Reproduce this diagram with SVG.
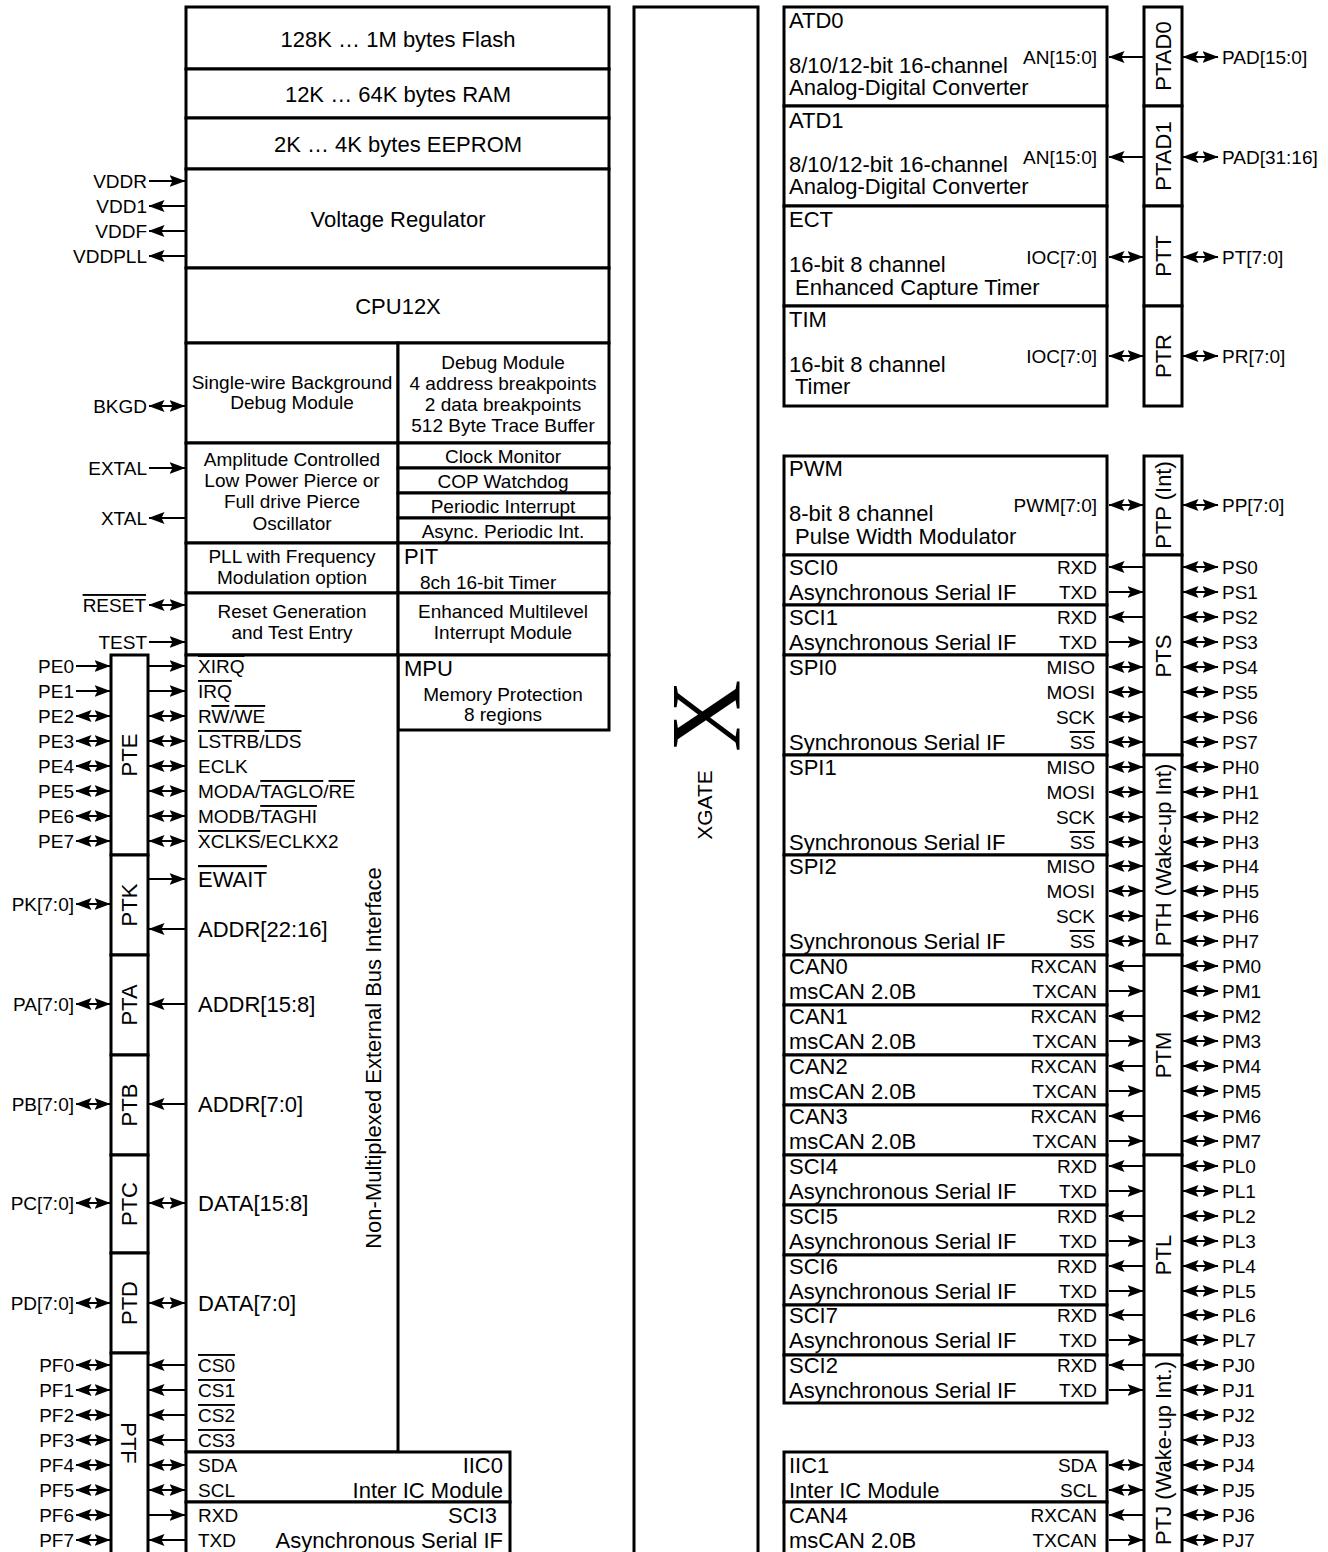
<svg xmlns="http://www.w3.org/2000/svg" width="1328" height="1552" viewBox="0 0 1328 1552">
<defs>
<marker id="ah" viewBox="0 0 16 12" refX="15.5" refY="6" markerWidth="16" markerHeight="12" markerUnits="userSpaceOnUse" orient="auto-start-reverse"><path d="M0,0 L16,6 L0,12 L3,6 z" fill="#000"/></marker>
</defs>
<style>
.b{fill:#fff;stroke:#000;stroke-width:3}
.t{font-family:"Liberation Sans",Arial,sans-serif;fill:#000}
.s{font-size:19px}
.m{font-size:22px}
.c{text-anchor:middle}
.r{text-anchor:end}
.ln{stroke:#000;stroke-width:2.2}
.a1{marker-end:url(#ah)}
.a2{marker-start:url(#ah);marker-end:url(#ah)}
.o{text-decoration:overline}
</style>
<rect width="1328" height="1552" fill="#fff"/>

<!-- left main column -->
<g id="flash"><rect class="b" x="186" y="7" width="423" height="62"/><text class="t m c" x="398" y="47">128K … 1M bytes Flash</text></g>
<g id="ram"><rect class="b" x="186" y="69" width="423" height="49"/><text class="t m c" x="398" y="102">12K … 64K bytes RAM</text></g>
<g id="eeprom"><rect class="b" x="186" y="118" width="423" height="51"/><text class="t m c" x="398" y="152">2K … 4K bytes EEPROM</text></g>
<g id="vreg"><rect class="b" x="186" y="169" width="423" height="99"/><text class="t m c" x="398" y="227">Voltage Regulator</text></g>
<g id="cpu"><rect class="b" x="186" y="268" width="423" height="75"/><text class="t m c" x="398" y="314">CPU12X</text></g>
<g id="bdm"><rect class="b" x="186" y="343" width="212" height="100"/><text class="t s c" x="292" y="389">Single-wire Background</text><text class="t s c" x="292" y="409">Debug Module</text></g>
<g id="dbg"><rect class="b" x="398" y="343" width="211" height="100"/><text class="t s c" x="503" y="369">Debug Module</text><text class="t s c" x="503" y="390">4 address breakpoints</text><text class="t s c" x="503" y="411">2 data breakpoints</text><text class="t s c" x="503" y="432">512 Byte Trace Buffer</text></g>
<g id="osc"><rect class="b" x="186" y="443" width="212" height="100"/><text class="t s c" x="292" y="466">Amplitude Controlled</text><text class="t s c" x="292" y="487">Low Power Pierce or</text><text class="t s c" x="292" y="508">Full drive Pierce</text><text class="t s c" x="292" y="530">Oscillator</text></g>
<g id="clkmon"><rect class="b" x="398" y="443" width="211" height="25"/><text class="t s c" x="503" y="463">Clock Monitor</text></g>
<g id="cop"><rect class="b" x="398" y="468" width="211" height="25"/><text class="t s c" x="503" y="488">COP Watchdog</text></g>
<g id="pint"><rect class="b" x="398" y="493" width="211" height="25"/><text class="t s c" x="503" y="513">Periodic Interrupt</text></g>
<g id="apint"><rect class="b" x="398" y="518" width="211" height="25"/><text class="t s c" x="503" y="538">Async. Periodic Int.</text></g>
<g id="pll"><rect class="b" x="186" y="543" width="212" height="50"/><text class="t s c" x="292" y="563">PLL with Frequency</text><text class="t s c" x="292" y="584">Modulation option</text></g>
<g id="pit"><rect class="b" x="398" y="543" width="211" height="50"/><text class="t m" x="404" y="564">PIT</text><text class="t s" x="420" y="589">8ch 16-bit Timer</text></g>
<g id="reset"><rect class="b" x="186" y="593" width="212" height="62"/><text class="t s c" x="292" y="618">Reset Generation</text><text class="t s c" x="292" y="639">and Test Entry</text></g>
<g id="emim"><rect class="b" x="398" y="593" width="211" height="62"/><text class="t s c" x="503" y="618">Enhanced Multilevel</text><text class="t s c" x="503" y="639">Interrupt Module</text></g>
<g id="mpu"><rect class="b" x="398" y="655" width="211" height="75"/><text class="t m" x="404" y="676">MPU</text><text class="t s c" x="503" y="701">Memory Protection</text><text class="t s c" x="503" y="721">8 regions</text></g>
<g id="ebi"><rect class="b" x="186" y="655" width="212" height="797"/>
<text class="t s" x="198" y="673"><tspan class="o">XIRQ</tspan></text>
<text class="t s" x="198" y="698"><tspan class="o">IRQ</tspan></text>
<text class="t s" x="198" y="723">R<tspan class="o">W</tspan>/<tspan class="o">WE</tspan></text>
<text class="t s" x="198" y="748"><tspan class="o">LSTRB</tspan>/<tspan class="o">LDS</tspan></text>
<text class="t s" x="198" y="773">ECLK</text>
<text class="t s" x="198" y="798">MODA/<tspan class="o">TAGLO</tspan>/<tspan class="o">RE</tspan></text>
<text class="t s" x="198" y="823">MODB/<tspan class="o">TAGHI</tspan></text>
<text class="t s" x="198" y="848"><tspan class="o">XCLKS</tspan>/ECLKX2</text>
<text class="t m" x="198" y="887"><tspan class="o">EWAIT</tspan></text>
<text class="t m" x="198" y="937">ADDR[22:16]</text>
<text class="t m" x="198" y="1012">ADDR[15:8]</text>
<text class="t m" x="198" y="1112">ADDR[7:0]</text>
<text class="t m" x="198" y="1211">DATA[15:8]</text>
<text class="t m" x="198" y="1311">DATA[7:0]</text>
<text class="t s" x="198" y="1372"><tspan class="o">CS0</tspan></text>
<text class="t s" x="198" y="1397"><tspan class="o">CS1</tspan></text>
<text class="t s" x="198" y="1422"><tspan class="o">CS2</tspan></text>
<text class="t s" x="198" y="1447"><tspan class="o">CS3</tspan></text>
<text class="t m c" transform="translate(373,1058) rotate(-90)" y="8">Non-Multiplexed External Bus Interface</text>
</g>
<g id="iic0"><rect class="b" x="186" y="1452" width="324" height="50"/><text class="t s" x="198" y="1472">SDA</text><text class="t s" x="198" y="1497">SCL</text><text class="t m r" x="503" y="1473">IIC0</text><text class="t m r" x="503" y="1498">Inter IC Module</text></g>
<g id="sci3"><rect class="b" x="186" y="1502" width="324" height="52"/><text class="t s" x="198" y="1522">RXD</text><text class="t s" x="198" y="1547">TXD</text><text class="t m r" x="497" y="1523">SCI3</text><text class="t m r" x="503" y="1548">Asynchronous Serial IF</text></g>

<!-- left ports -->
<g id="pte"><rect class="b" x="111" y="655" width="37" height="200"/><text class="t m c" transform="translate(129,755) rotate(-90)" y="8">PTE</text></g>
<g id="ptk"><rect class="b" x="111" y="855" width="37" height="100"/><text class="t m c" transform="translate(129,905) rotate(-90)" y="8">PTK</text></g>
<g id="pta"><rect class="b" x="111" y="955" width="37" height="100"/><text class="t m c" transform="translate(129,1005) rotate(-90)" y="8">PTA</text></g>
<g id="ptb"><rect class="b" x="111" y="1055" width="37" height="100"/><text class="t m c" transform="translate(129,1105) rotate(-90)" y="8">PTB</text></g>
<g id="ptc"><rect class="b" x="111" y="1155" width="37" height="98"/><text class="t m c" transform="translate(129,1204) rotate(-90)" y="8">PTC</text></g>
<g id="ptd"><rect class="b" x="111" y="1253" width="37" height="100"/><text class="t m c" transform="translate(129,1303) rotate(-90)" y="8">PTD</text></g>
<g id="ptf"><rect class="b" x="111" y="1353" width="37" height="201"/><text class="t m c" transform="translate(129,1443) rotate(90)" y="8">PTF</text></g>

<!-- XGATE -->
<g id="xgate"><rect class="b" x="634" y="7" width="124" height="1547"/>
<text transform="translate(705,716) rotate(-90)" y="34" text-anchor="middle" font-family="'Liberation Serif','Times New Roman',serif" font-size="100">X</text>
<text class="t c" font-size="21" transform="translate(705,805) rotate(-90)" y="7">XGATE</text></g>

<!-- right modules -->
<g id="atd0"><rect class="b" x="784" y="7" width="323" height="99"/><text class="t m" x="789" y="28">ATD0</text><text class="t m" x="789" y="73">8/10/12-bit 16-channel</text><text class="t m" x="789" y="95">Analog-Digital Converter</text><text class="t s r" x="1097" y="64">AN[15:0]</text></g>
<g id="atd1"><rect class="b" x="784" y="106" width="323" height="100"/><text class="t m" x="789" y="128">ATD1</text><text class="t m" x="789" y="172">8/10/12-bit 16-channel</text><text class="t m" x="789" y="194">Analog-Digital Converter</text><text class="t s r" x="1097" y="164">AN[15:0]</text></g>
<g id="ect"><rect class="b" x="784" y="206" width="323" height="100"/><text class="t m" x="789" y="227">ECT</text><text class="t m" x="789" y="272">16-bit 8 channel</text><text class="t m" x="795" y="295">Enhanced Capture Timer</text><text class="t s r" x="1097" y="264">IOC[7:0]</text></g>
<g id="tim"><rect class="b" x="784" y="306" width="323" height="100"/><text class="t m" x="789" y="327">TIM</text><text class="t m" x="789" y="372">16-bit 8 channel</text><text class="t m" x="795" y="394">Timer</text><text class="t s r" x="1097" y="363">IOC[7:0]</text></g>
<g id="pwm"><rect class="b" x="784" y="456" width="323" height="99"/><text class="t m" x="789" y="476">PWM</text><text class="t m" x="789" y="521">8-bit 8 channel</text><text class="t m" x="795" y="544">Pulse Width Modulator</text><text class="t s r" x="1097" y="512">PWM[7:0]</text></g>
<g id="sci0"><rect class="b" x="784" y="555" width="323" height="50"/><text class="t m" x="789" y="575">SCI0</text><text class="t m" x="789" y="600">Asynchronous Serial IF</text><text class="t s r" x="1097" y="574">RXD</text><text class="t s r" x="1097" y="599">TXD</text></g>
<g id="sci1"><rect class="b" x="784" y="605" width="323" height="50"/><text class="t m" x="789" y="625">SCI1</text><text class="t m" x="789" y="650">Asynchronous Serial IF</text><text class="t s r" x="1097" y="624">RXD</text><text class="t s r" x="1097" y="649">TXD</text></g>
<g id="spi0"><rect class="b" x="784" y="655" width="323" height="100"/><text class="t m" x="789" y="675">SPI0</text><text class="t m" x="789" y="750">Synchronous Serial IF</text><text class="t s r" x="1095" y="674">MISO</text><text class="t s r" x="1095" y="699">MOSI</text><text class="t s r" x="1095" y="724">SCK</text><text class="t s r" x="1095" y="749"><tspan class="o">SS</tspan></text></g>
<g id="spi1"><rect class="b" x="784" y="755" width="323" height="100"/><text class="t m" x="789" y="775">SPI1</text><text class="t m" x="789" y="850">Synchronous Serial IF</text><text class="t s r" x="1095" y="774">MISO</text><text class="t s r" x="1095" y="799">MOSI</text><text class="t s r" x="1095" y="824">SCK</text><text class="t s r" x="1095" y="849"><tspan class="o">SS</tspan></text></g>
<g id="spi2"><rect class="b" x="784" y="855" width="323" height="100"/><text class="t m" x="789" y="874">SPI2</text><text class="t m" x="789" y="949">Synchronous Serial IF</text><text class="t s r" x="1095" y="873">MISO</text><text class="t s r" x="1095" y="898">MOSI</text><text class="t s r" x="1095" y="923">SCK</text><text class="t s r" x="1095" y="948"><tspan class="o">SS</tspan></text></g>
<g id="can0"><rect class="b" x="784" y="955" width="323" height="50"/><text class="t m" x="789" y="974">CAN0</text><text class="t m" x="789" y="999">msCAN 2.0B</text><text class="t s r" x="1097" y="973">RXCAN</text><text class="t s r" x="1097" y="998">TXCAN</text></g>
<g id="can1"><rect class="b" x="784" y="1005" width="323" height="50"/><text class="t m" x="789" y="1024">CAN1</text><text class="t m" x="789" y="1049">msCAN 2.0B</text><text class="t s r" x="1097" y="1023">RXCAN</text><text class="t s r" x="1097" y="1048">TXCAN</text></g>
<g id="can2"><rect class="b" x="784" y="1055" width="323" height="50"/><text class="t m" x="789" y="1074">CAN2</text><text class="t m" x="789" y="1099">msCAN 2.0B</text><text class="t s r" x="1097" y="1073">RXCAN</text><text class="t s r" x="1097" y="1098">TXCAN</text></g>
<g id="can3"><rect class="b" x="784" y="1105" width="323" height="50"/><text class="t m" x="789" y="1124">CAN3</text><text class="t m" x="789" y="1149">msCAN 2.0B</text><text class="t s r" x="1097" y="1123">RXCAN</text><text class="t s r" x="1097" y="1148">TXCAN</text></g>
<g id="sci4"><rect class="b" x="784" y="1155" width="323" height="50"/><text class="t m" x="789" y="1174">SCI4</text><text class="t m" x="789" y="1199">Asynchronous Serial IF</text><text class="t s r" x="1097" y="1173">RXD</text><text class="t s r" x="1097" y="1198">TXD</text></g>
<g id="sci5"><rect class="b" x="784" y="1205" width="323" height="50"/><text class="t m" x="789" y="1224">SCI5</text><text class="t m" x="789" y="1249">Asynchronous Serial IF</text><text class="t s r" x="1097" y="1223">RXD</text><text class="t s r" x="1097" y="1248">TXD</text></g>
<g id="sci6"><rect class="b" x="784" y="1255" width="323" height="50"/><text class="t m" x="789" y="1274">SCI6</text><text class="t m" x="789" y="1299">Asynchronous Serial IF</text><text class="t s r" x="1097" y="1273">RXD</text><text class="t s r" x="1097" y="1298">TXD</text></g>
<g id="sci7"><rect class="b" x="784" y="1305" width="323" height="50"/><text class="t m" x="789" y="1323">SCI7</text><text class="t m" x="789" y="1348">Asynchronous Serial IF</text><text class="t s r" x="1097" y="1322">RXD</text><text class="t s r" x="1097" y="1347">TXD</text></g>
<g id="sci2"><rect class="b" x="784" y="1355" width="323" height="48"/><text class="t m" x="789" y="1373">SCI2</text><text class="t m" x="789" y="1398">Asynchronous Serial IF</text><text class="t s r" x="1097" y="1372">RXD</text><text class="t s r" x="1097" y="1397">TXD</text></g>
<g id="iic1"><rect class="b" x="784" y="1452" width="323" height="50"/><text class="t m" x="789" y="1473">IIC1</text><text class="t m" x="789" y="1498">Inter IC Module</text><text class="t s r" x="1097" y="1472">SDA</text><text class="t s r" x="1097" y="1497">SCL</text></g>
<g id="can4"><rect class="b" x="784" y="1502" width="323" height="52"/><text class="t m" x="789" y="1523">CAN4</text><text class="t m" x="789" y="1548">msCAN 2.0B</text><text class="t s r" x="1097" y="1522">RXCAN</text><text class="t s r" x="1097" y="1547">TXCAN</text></g>

<!-- right ports -->
<g id="ptad0"><rect class="b" x="1144" y="7" width="38" height="99"/><text class="t m c" transform="translate(1163,56) rotate(-90)" y="8">PTAD0</text></g>
<g id="ptad1"><rect class="b" x="1144" y="106" width="38" height="100"/><text class="t m c" transform="translate(1163,156) rotate(-90)" y="8">PTAD1</text></g>
<g id="ptt"><rect class="b" x="1144" y="206" width="38" height="100"/><text class="t m c" transform="translate(1163,256) rotate(-90)" y="8">PTT</text></g>
<g id="ptr"><rect class="b" x="1144" y="306" width="38" height="100"/><text class="t m c" transform="translate(1163,356) rotate(-90)" y="8">PTR</text></g>
<g id="ptp"><rect class="b" x="1144" y="456" width="38" height="99"/><text class="t m c" transform="translate(1163,505) rotate(-90)" y="8">PTP (Int)</text></g>
<g id="pts"><rect class="b" x="1144" y="555" width="38" height="200"/><text class="t m c" transform="translate(1163,656) rotate(-90)" y="8">PTS</text></g>
<g id="pth"><rect class="b" x="1144" y="755" width="38" height="200"/><text class="t m c" transform="translate(1163,855) rotate(-90)" y="8">PTH (Wake-up Int)</text></g>
<g id="ptm"><rect class="b" x="1144" y="955" width="38" height="200"/><text class="t m c" transform="translate(1163,1055) rotate(-90)" y="8">PTM</text></g>
<g id="ptl"><rect class="b" x="1144" y="1155" width="38" height="200"/><text class="t m c" transform="translate(1163,1255) rotate(-90)" y="8">PTL</text></g>
<g id="ptj"><rect class="b" x="1144" y="1355" width="38" height="199"/><text class="t m c" transform="translate(1163,1453) rotate(-90)" y="8">PTJ (Wake-up Int.)</text></g>

<!-- external pin labels -->
<g id="pins-left">
<text class="t s r" x="147" y="188">VDDR</text>
<text class="t s r" x="147" y="213">VDD1</text>
<text class="t s r" x="147" y="238">VDDF</text>
<text class="t s r" x="147" y="263">VDDPLL</text>
<text class="t s r" x="147" y="413">BKGD</text>
<text class="t s r" x="147" y="475">EXTAL</text>
<text class="t s r" x="147" y="525">XTAL</text>
<text class="t s r" x="146" y="612"><tspan class="o">RESET</tspan></text>
<text class="t s r" x="147" y="649">TEST</text>
<text class="t s r" x="74" y="673">PE0</text>
<text class="t s r" x="74" y="698">PE1</text>
<text class="t s r" x="74" y="723">PE2</text>
<text class="t s r" x="74" y="748">PE3</text>
<text class="t s r" x="74" y="773">PE4</text>
<text class="t s r" x="74" y="798">PE5</text>
<text class="t s r" x="74" y="823">PE6</text>
<text class="t s r" x="74" y="848">PE7</text>
<text class="t s r" x="74" y="911">PK[7:0]</text>
<text class="t s r" x="74" y="1011">PA[7:0]</text>
<text class="t s r" x="74" y="1111">PB[7:0]</text>
<text class="t s r" x="74" y="1210">PC[7:0]</text>
<text class="t s r" x="74" y="1310">PD[7:0]</text>
<text class="t s r" x="74" y="1372">PF0</text>
<text class="t s r" x="74" y="1397">PF1</text>
<text class="t s r" x="74" y="1422">PF2</text>
<text class="t s r" x="74" y="1447">PF3</text>
<text class="t s r" x="74" y="1472">PF4</text>
<text class="t s r" x="74" y="1497">PF5</text>
<text class="t s r" x="74" y="1522">PF6</text>
<text class="t s r" x="74" y="1547">PF7</text>
</g>
<g id="pins-right">
<text class="t s" x="1222" y="64">PAD[15:0]</text>
<text class="t s" x="1222" y="164">PAD[31:16]</text>
<text class="t s" x="1222" y="264">PT[7:0]</text>
<text class="t s" x="1222" y="363">PR[7:0]</text>
<text class="t s" x="1222" y="512">PP[7:0]</text>
<text class="t s" x="1222" y="574">PS0</text><text class="t s" x="1222" y="599">PS1</text><text class="t s" x="1222" y="624">PS2</text><text class="t s" x="1222" y="649">PS3</text>
<text class="t s" x="1222" y="674">PS4</text><text class="t s" x="1222" y="699">PS5</text><text class="t s" x="1222" y="724">PS6</text><text class="t s" x="1222" y="749">PS7</text>
<text class="t s" x="1222" y="774">PH0</text><text class="t s" x="1222" y="799">PH1</text><text class="t s" x="1222" y="824">PH2</text><text class="t s" x="1222" y="849">PH3</text>
<text class="t s" x="1222" y="873">PH4</text><text class="t s" x="1222" y="898">PH5</text><text class="t s" x="1222" y="923">PH6</text><text class="t s" x="1222" y="948">PH7</text>
<text class="t s" x="1222" y="973">PM0</text><text class="t s" x="1222" y="998">PM1</text><text class="t s" x="1222" y="1023">PM2</text><text class="t s" x="1222" y="1048">PM3</text>
<text class="t s" x="1222" y="1073">PM4</text><text class="t s" x="1222" y="1098">PM5</text><text class="t s" x="1222" y="1123">PM6</text><text class="t s" x="1222" y="1148">PM7</text>
<text class="t s" x="1222" y="1173">PL0</text><text class="t s" x="1222" y="1198">PL1</text><text class="t s" x="1222" y="1223">PL2</text><text class="t s" x="1222" y="1248">PL3</text>
<text class="t s" x="1222" y="1273">PL4</text><text class="t s" x="1222" y="1298">PL5</text><text class="t s" x="1222" y="1322">PL6</text><text class="t s" x="1222" y="1347">PL7</text>
<text class="t s" x="1222" y="1372">PJ0</text><text class="t s" x="1222" y="1397">PJ1</text><text class="t s" x="1222" y="1422">PJ2</text><text class="t s" x="1222" y="1447">PJ3</text>
<text class="t s" x="1222" y="1472">PJ4</text><text class="t s" x="1222" y="1497">PJ5</text><text class="t s" x="1222" y="1522">PJ6</text><text class="t s" x="1222" y="1547">PJ7</text>
</g>

<g id="connectors">
<line class="ln a1" x1="149" y1="181" x2="185" y2="181"/>
<line class="ln a1" x1="185" y1="206" x2="149" y2="206"/>
<line class="ln a1" x1="185" y1="231" x2="149" y2="231"/>
<line class="ln a1" x1="185" y1="256" x2="149" y2="256"/>
<line class="ln a2" x1="149" y1="406" x2="185" y2="406"/>
<line class="ln a1" x1="149" y1="468" x2="185" y2="468"/>
<line class="ln a1" x1="185" y1="518" x2="149" y2="518"/>
<line class="ln a2" x1="149" y1="605" x2="185" y2="605"/>
<line class="ln a1" x1="149" y1="642" x2="185" y2="642"/>
<line class="ln a1" x1="76" y1="666" x2="110" y2="666"/>
<line class="ln a1" x1="76" y1="691" x2="110" y2="691"/>
<line class="ln a2" x1="76" y1="716" x2="110" y2="716"/>
<line class="ln a2" x1="76" y1="741" x2="110" y2="741"/>
<line class="ln a2" x1="76" y1="766" x2="110" y2="766"/>
<line class="ln a2" x1="76" y1="791" x2="110" y2="791"/>
<line class="ln a2" x1="76" y1="816" x2="110" y2="816"/>
<line class="ln a2" x1="76" y1="841" x2="110" y2="841"/>
<line class="ln a1" x1="149" y1="666" x2="185" y2="666"/>
<line class="ln a1" x1="149" y1="691" x2="185" y2="691"/>
<line class="ln a2" x1="149" y1="716" x2="185" y2="716"/>
<line class="ln a2" x1="149" y1="741" x2="185" y2="741"/>
<line class="ln a2" x1="149" y1="766" x2="185" y2="766"/>
<line class="ln a2" x1="149" y1="791" x2="185" y2="791"/>
<line class="ln a2" x1="149" y1="816" x2="185" y2="816"/>
<line class="ln a2" x1="149" y1="841" x2="185" y2="841"/>
<line class="ln a2" x1="76" y1="904" x2="110" y2="904"/>
<line class="ln a1" x1="149" y1="879" x2="185" y2="879"/>
<line class="ln a1" x1="185" y1="929" x2="149" y2="929"/>
<line class="ln a2" x1="76" y1="1004" x2="110" y2="1004"/>
<line class="ln a1" x1="185" y1="1004" x2="149" y2="1004"/>
<line class="ln a2" x1="76" y1="1104" x2="110" y2="1104"/>
<line class="ln a1" x1="185" y1="1104" x2="149" y2="1104"/>
<line class="ln a2" x1="76" y1="1203" x2="110" y2="1203"/>
<line class="ln a2" x1="149" y1="1203" x2="185" y2="1203"/>
<line class="ln a2" x1="76" y1="1303" x2="110" y2="1303"/>
<line class="ln a2" x1="149" y1="1303" x2="185" y2="1303"/>
<line class="ln a2" x1="76" y1="1365" x2="110" y2="1365"/>
<line class="ln a2" x1="76" y1="1390" x2="110" y2="1390"/>
<line class="ln a2" x1="76" y1="1415" x2="110" y2="1415"/>
<line class="ln a2" x1="76" y1="1440" x2="110" y2="1440"/>
<line class="ln a2" x1="76" y1="1465" x2="110" y2="1465"/>
<line class="ln a2" x1="76" y1="1490" x2="110" y2="1490"/>
<line class="ln a2" x1="76" y1="1515" x2="110" y2="1515"/>
<line class="ln a2" x1="76" y1="1540" x2="110" y2="1540"/>
<line class="ln a1" x1="185" y1="1365" x2="149" y2="1365"/>
<line class="ln a1" x1="185" y1="1390" x2="149" y2="1390"/>
<line class="ln a1" x1="185" y1="1415" x2="149" y2="1415"/>
<line class="ln a1" x1="185" y1="1440" x2="149" y2="1440"/>
<line class="ln a2" x1="149" y1="1465" x2="185" y2="1465"/>
<line class="ln a2" x1="149" y1="1490" x2="185" y2="1490"/>
<line class="ln a1" x1="149" y1="1515" x2="185" y2="1515"/>
<line class="ln a1" x1="185" y1="1540" x2="149" y2="1540"/>
<line class="ln a1" x1="1143" y1="57" x2="1109" y2="57"/>
<line class="ln a1" x1="1143" y1="157" x2="1109" y2="157"/>
<line class="ln a2" x1="1109" y1="257" x2="1143" y2="257"/>
<line class="ln a2" x1="1109" y1="356" x2="1143" y2="356"/>
<line class="ln a2" x1="1109" y1="505" x2="1143" y2="505"/>
<line class="ln a2" x1="1183" y1="57" x2="1218" y2="57"/>
<line class="ln a2" x1="1183" y1="157" x2="1218" y2="157"/>
<line class="ln a2" x1="1183" y1="257" x2="1218" y2="257"/>
<line class="ln a2" x1="1183" y1="356" x2="1218" y2="356"/>
<line class="ln a2" x1="1183" y1="505" x2="1218" y2="505"/>
<line class="ln a1" x1="1143" y1="567" x2="1109" y2="567"/>
<line class="ln a1" x1="1109" y1="592" x2="1143" y2="592"/>
<line class="ln a1" x1="1143" y1="617" x2="1109" y2="617"/>
<line class="ln a1" x1="1109" y1="642" x2="1143" y2="642"/>
<line class="ln a2" x1="1109" y1="667" x2="1143" y2="667"/>
<line class="ln a2" x1="1109" y1="692" x2="1143" y2="692"/>
<line class="ln a2" x1="1109" y1="717" x2="1143" y2="717"/>
<line class="ln a2" x1="1109" y1="742" x2="1143" y2="742"/>
<line class="ln a2" x1="1109" y1="767" x2="1143" y2="767"/>
<line class="ln a2" x1="1109" y1="792" x2="1143" y2="792"/>
<line class="ln a2" x1="1109" y1="817" x2="1143" y2="817"/>
<line class="ln a2" x1="1109" y1="842" x2="1143" y2="842"/>
<line class="ln a2" x1="1109" y1="866" x2="1143" y2="866"/>
<line class="ln a2" x1="1109" y1="891" x2="1143" y2="891"/>
<line class="ln a2" x1="1109" y1="916" x2="1143" y2="916"/>
<line class="ln a2" x1="1109" y1="941" x2="1143" y2="941"/>
<line class="ln a1" x1="1143" y1="966" x2="1109" y2="966"/>
<line class="ln a1" x1="1109" y1="991" x2="1143" y2="991"/>
<line class="ln a1" x1="1143" y1="1016" x2="1109" y2="1016"/>
<line class="ln a1" x1="1109" y1="1041" x2="1143" y2="1041"/>
<line class="ln a1" x1="1143" y1="1066" x2="1109" y2="1066"/>
<line class="ln a1" x1="1109" y1="1091" x2="1143" y2="1091"/>
<line class="ln a1" x1="1143" y1="1116" x2="1109" y2="1116"/>
<line class="ln a1" x1="1109" y1="1141" x2="1143" y2="1141"/>
<line class="ln a1" x1="1143" y1="1166" x2="1109" y2="1166"/>
<line class="ln a1" x1="1109" y1="1191" x2="1143" y2="1191"/>
<line class="ln a1" x1="1143" y1="1216" x2="1109" y2="1216"/>
<line class="ln a1" x1="1109" y1="1241" x2="1143" y2="1241"/>
<line class="ln a1" x1="1143" y1="1266" x2="1109" y2="1266"/>
<line class="ln a1" x1="1109" y1="1291" x2="1143" y2="1291"/>
<line class="ln a1" x1="1143" y1="1315" x2="1109" y2="1315"/>
<line class="ln a1" x1="1109" y1="1340" x2="1143" y2="1340"/>
<line class="ln a1" x1="1143" y1="1365" x2="1109" y2="1365"/>
<line class="ln a1" x1="1109" y1="1390" x2="1143" y2="1390"/>
<line class="ln a2" x1="1109" y1="1465" x2="1143" y2="1465"/>
<line class="ln a2" x1="1109" y1="1490" x2="1143" y2="1490"/>
<line class="ln a1" x1="1143" y1="1515" x2="1109" y2="1515"/>
<line class="ln a1" x1="1109" y1="1540" x2="1143" y2="1540"/>
<line class="ln a2" x1="1183" y1="567" x2="1218" y2="567"/>
<line class="ln a2" x1="1183" y1="592" x2="1218" y2="592"/>
<line class="ln a2" x1="1183" y1="617" x2="1218" y2="617"/>
<line class="ln a2" x1="1183" y1="642" x2="1218" y2="642"/>
<line class="ln a2" x1="1183" y1="667" x2="1218" y2="667"/>
<line class="ln a2" x1="1183" y1="692" x2="1218" y2="692"/>
<line class="ln a2" x1="1183" y1="717" x2="1218" y2="717"/>
<line class="ln a2" x1="1183" y1="742" x2="1218" y2="742"/>
<line class="ln a2" x1="1183" y1="767" x2="1218" y2="767"/>
<line class="ln a2" x1="1183" y1="792" x2="1218" y2="792"/>
<line class="ln a2" x1="1183" y1="817" x2="1218" y2="817"/>
<line class="ln a2" x1="1183" y1="842" x2="1218" y2="842"/>
<line class="ln a2" x1="1183" y1="866" x2="1218" y2="866"/>
<line class="ln a2" x1="1183" y1="891" x2="1218" y2="891"/>
<line class="ln a2" x1="1183" y1="916" x2="1218" y2="916"/>
<line class="ln a2" x1="1183" y1="941" x2="1218" y2="941"/>
<line class="ln a2" x1="1183" y1="966" x2="1218" y2="966"/>
<line class="ln a2" x1="1183" y1="991" x2="1218" y2="991"/>
<line class="ln a2" x1="1183" y1="1016" x2="1218" y2="1016"/>
<line class="ln a2" x1="1183" y1="1041" x2="1218" y2="1041"/>
<line class="ln a2" x1="1183" y1="1066" x2="1218" y2="1066"/>
<line class="ln a2" x1="1183" y1="1091" x2="1218" y2="1091"/>
<line class="ln a2" x1="1183" y1="1116" x2="1218" y2="1116"/>
<line class="ln a2" x1="1183" y1="1141" x2="1218" y2="1141"/>
<line class="ln a2" x1="1183" y1="1166" x2="1218" y2="1166"/>
<line class="ln a2" x1="1183" y1="1191" x2="1218" y2="1191"/>
<line class="ln a2" x1="1183" y1="1216" x2="1218" y2="1216"/>
<line class="ln a2" x1="1183" y1="1241" x2="1218" y2="1241"/>
<line class="ln a2" x1="1183" y1="1266" x2="1218" y2="1266"/>
<line class="ln a2" x1="1183" y1="1291" x2="1218" y2="1291"/>
<line class="ln a2" x1="1183" y1="1315" x2="1218" y2="1315"/>
<line class="ln a2" x1="1183" y1="1340" x2="1218" y2="1340"/>
<line class="ln a2" x1="1183" y1="1365" x2="1218" y2="1365"/>
<line class="ln a2" x1="1183" y1="1390" x2="1218" y2="1390"/>
<line class="ln a2" x1="1183" y1="1415" x2="1218" y2="1415"/>
<line class="ln a2" x1="1183" y1="1440" x2="1218" y2="1440"/>
<line class="ln a2" x1="1183" y1="1465" x2="1218" y2="1465"/>
<line class="ln a2" x1="1183" y1="1490" x2="1218" y2="1490"/>
<line class="ln a2" x1="1183" y1="1515" x2="1218" y2="1515"/>
<line class="ln a2" x1="1183" y1="1540" x2="1218" y2="1540"/>
</g>
</svg>
